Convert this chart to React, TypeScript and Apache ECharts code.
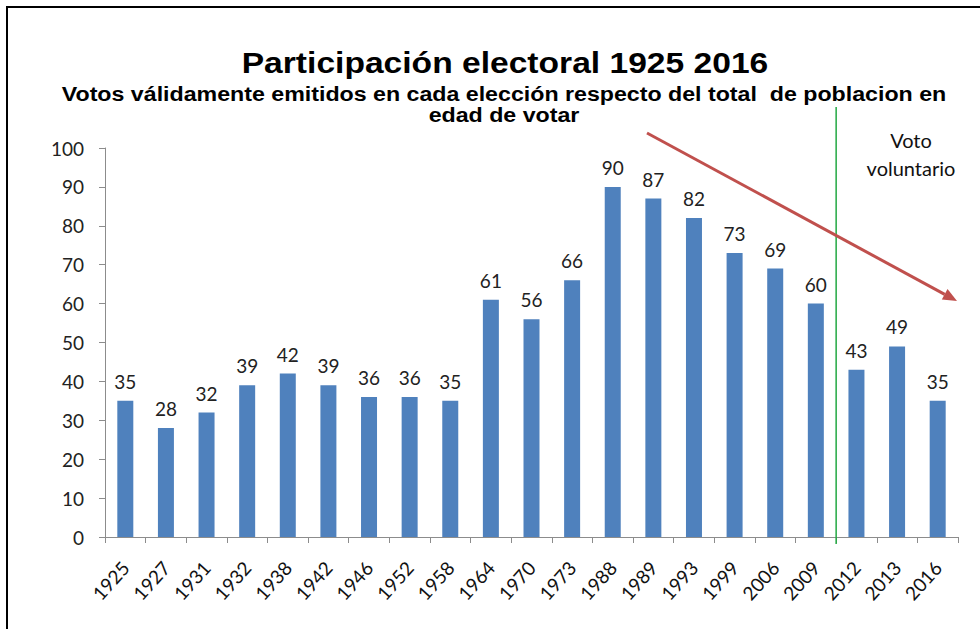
import React, { useEffect, useRef } from "react";
import * as echarts from "echarts";

const years = ["1925","1927","1931","1932","1938","1942","1946","1952","1958","1964","1970","1973","1988","1989","1993","1999","2006","2009","2012","2013","2016"];
const turnout = [35,28,32,39,42,39,36,36,35,61,56,66,90,87,82,73,69,60,43,49,35];
const yTicks = { min: 0, max: 100, interval: 10 };
const voluntaryStartIndex = 18;

const titleText = "Participación electoral 1925 2016";
const subtitleLine1 = "Votos válidamente emitidos en cada elección respecto del total  de poblacion en";
const subtitleLine2 = "edad de votar";
const noteText = "Voto\nvoluntario";

export default function App() {
  const ref = useRef<HTMLDivElement>(null);
  useEffect(() => {
    if (!ref.current) return;
    const chart = echarts.init(ref.current, null, { renderer: "svg" });
    const labelFont = "Lato, 'Open Sans', sans-serif";
    const headFont = "'Liberation Sans', Arial, sans-serif";
    chart.setOption({
      animation: false,
      backgroundColor: "#ffffff",
      grid: { left: 105, top: 148, right: 22, bottom: 92, containLabel: false },
      xAxis: {
        type: "category",
        data: years,
        axisLine: { lineStyle: { color: "#8c8c8c" } },
        axisTick: { show: true, length: 6, lineStyle: { color: "#8c8c8c" } },
        axisLabel: { rotate: 48, fontSize: 19, color: "#111", fontFamily: labelFont, margin: 27 },
      },
      yAxis: {
        type: "value",
        min: yTicks.min, max: yTicks.max, interval: yTicks.interval,
        axisLine: { show: true, lineStyle: { color: "#8c8c8c" } },
        axisTick: { show: true, length: 6, lineStyle: { color: "#8c8c8c" } },
        splitLine: { show: false },
        axisLabel: { fontSize: 19, color: "#222", fontFamily: labelFont, margin: 21 },
      },
      series: [
        {
          type: "bar",
          data: turnout,
          barWidth: 16,
          itemStyle: { color: "#4f81bd" },
          label: { show: true, position: "top", distance: 10, fontSize: 19, color: "#222", fontFamily: labelFont },
        },
      ],
    });

    const xa = chart.convertToPixel({ xAxisIndex: 0 }, voluntaryStartIndex - 1) as number;
    const xb = chart.convertToPixel({ xAxisIndex: 0 }, voluntaryStartIndex) as number;
    const divX = (xa + xb) / 2;
    const y0 = chart.convertToPixel({ yAxisIndex: 0 }, 0) as number;

    const ax1 = 647, ay1 = 133, ax2 = 957, ay2 = 301;
    const ang = Math.atan2(ay2 - ay1, ax2 - ax1);
    const hl = 14, hw = 6;
    const bx = ax2 - hl * Math.cos(ang), by = ay2 - hl * Math.sin(ang);
    const px = -Math.sin(ang) * hw, py = Math.cos(ang) * hw;
    const red = "#c0504d";

    chart.setOption({
      graphic: [
        { type: "rect", shape: { x: 7, y: 7, width: 1000, height: 700 }, style: { fill: "none", stroke: "#000", lineWidth: 2 }, silent: true },
        { type: "text", x: 505, y: 63, scaleX: 1.12, style: { text: titleText, font: `bold 30px ${headFont}`, fill: "#000", align: "center", verticalAlign: "middle" } },
        { type: "text", x: 504, y: 94, scaleX: 1.16, style: { text: subtitleLine1, font: `bold 20px ${headFont}`, fill: "#000", align: "center", verticalAlign: "middle" } },
        { type: "text", x: 504, y: 115, scaleX: 1.16, style: { text: subtitleLine2, font: `bold 20px ${headFont}`, fill: "#000", align: "center", verticalAlign: "middle" } },
        { type: "line", shape: { x1: divX, y1: 107, x2: divX, y2: y0 + 7 }, style: { stroke: "#22a842", lineWidth: 1.5 }, z: 10 },
        { type: "text", x: 911, y: 126, style: { text: noteText, fontSize: 20, lineHeight: 28, fontFamily: labelFont, fill: "#111", align: "center" }, z: 10 },
        { type: "line", shape: { x1: ax1, y1: ay1, x2: bx, y2: by }, style: { stroke: red, lineWidth: 3 }, z: 11 },
        { type: "polygon", shape: { points: [[ax2, ay2], [bx + px, by + py], [bx - px, by - py]] }, style: { fill: red }, z: 11 },
      ],
    });
    return () => chart.dispose();
  }, []);
  return <div ref={ref} style={{ position: "absolute", left: 0, top: 0, width: 980, height: 629 }} />;
}
